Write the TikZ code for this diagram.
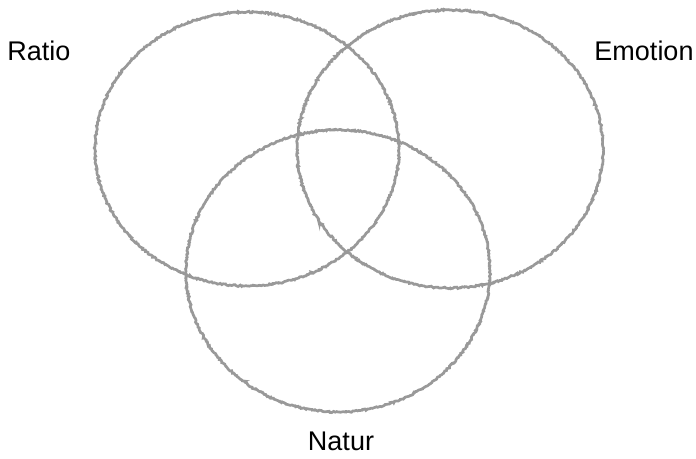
\documentclass[tikz,border=0pt]{standalone}
\usepackage{fontspec}
\setmainfont{Liberation Sans}
\usetikzlibrary{shapes.geometric,decorations.pathmorphing}

\begin{document}
\begin{tikzpicture}[
  x=1pt, y=1pt,
  font=\fontsize{27}{30}\selectfont,
  pencil/.style={draw=black!40, line width=2.7pt, ellipse, inner sep=0pt,
    decorate, decoration={random steps, segment length=1.4pt, amplitude=0.8pt}},
  lbl/.style={inner sep=0pt, text=black},
]
\pgfmathsetseed{7}
\useasboundingbox (0,0) rectangle (696,458);
% --- three sets ---
\node[pencil, minimum width=304pt, minimum height=274pt] (ratio)   at (247,309) {};
\node[pencil, minimum width=306pt, minimum height=278pt] (emotion) at (450,309) {};
\node[pencil, minimum width=304pt, minimum height=282pt] (natur)   at (338,187) {};
% --- labels ---
\node[lbl] (lratio)   at (39,407)  {Ratio};
\node[lbl] (lemotion) at (644,407) {Emotion};
\node[lbl] (lnatur)   at (341,17)  {Natur};
\end{tikzpicture}
\end{document}
